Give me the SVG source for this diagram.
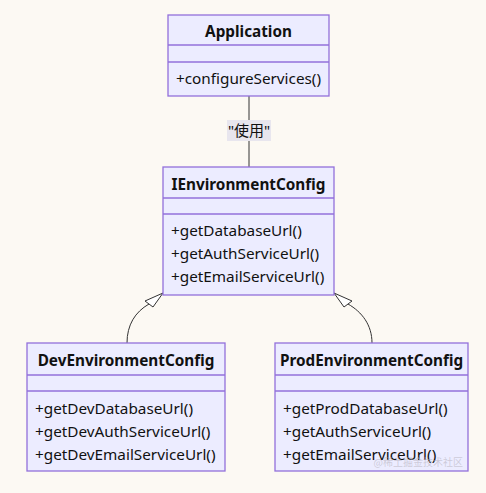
<svg xmlns="http://www.w3.org/2000/svg" width="486" height="493" viewBox="0 0 486 493">
<style>
.box{fill:#ECECFF;stroke:#9370DB;stroke-width:1.3}
.div{stroke:#9370DB;stroke-width:1.3}
.t{font-family:"Noto Sans","Open Sans",sans-serif;font-size:15.3px;fill:#111}
.h{font-weight:bold;text-anchor:middle}
.edge{fill:none;stroke:#333;stroke-width:1}
.arr{fill:#fff;stroke:#333;stroke-width:1}
.lbl{font-family:"Noto Sans","Noto Sans CJK SC",sans-serif;font-size:15px;fill:#111;text-anchor:middle}
</style>
<rect width="486" height="493" fill="#FCF9F3"/>
<g id="connectors">
<line class="edge" x1="249" y1="96" x2="249" y2="167"/>
<rect x="227" y="120" width="44" height="21" fill="#E8E6EE"/>
<text class="lbl" x="249" y="136">"使用"</text>
<path class="edge" d="M127,343 C127,325 135,312 149,304"/>
<polygon class="arr" points="163,293 145,301 153,307"/>
<path class="edge" d="M372,343 C372,325 362,312 348,304"/>
<polygon class="arr" points="334,293 352,301 344,307"/>
</g>
<g id="Application">
<rect class="box" x="168" y="15" width="161" height="81"/>
<line class="div" x1="168" y1="45" x2="329" y2="45"/>
<line class="div" x1="168" y1="62" x2="329" y2="62"/>
<text class="t h" x="248.5" y="37">Application</text>
<text class="t" x="176" y="84">+configureServices()</text>
</g>
<g id="IEnvironmentConfig">
<rect class="box" x="163" y="167" width="171" height="128"/>
<line class="div" x1="163" y1="198" x2="334" y2="198"/>
<line class="div" x1="163" y1="214" x2="334" y2="214"/>
<text class="t h" x="248.5" y="190">IEnvironmentConfig</text>
<text class="t" x="171" y="236">+getDatabaseUrl()</text>
<text class="t" x="171" y="259">+getAuthServiceUrl()</text>
<text class="t" x="171" y="282">+getEmailServiceUrl()</text>
</g>
<g id="DevEnvironmentConfig">
<rect class="box" x="27" y="343" width="198" height="128"/>
<line class="div" x1="27" y1="375" x2="225" y2="375"/>
<line class="div" x1="27" y1="391" x2="225" y2="391"/>
<text class="t h" x="126" y="366">DevEnvironmentConfig</text>
<text class="t" x="35" y="414">+getDevDatabaseUrl()</text>
<text class="t" x="35" y="437">+getDevAuthServiceUrl()</text>
<text class="t" x="35" y="460">+getDevEmailServiceUrl()</text>
</g>
<g id="ProdEnvironmentConfig">
<rect class="box" x="275" y="343" width="193" height="128"/>
<line class="div" x1="275" y1="375" x2="468" y2="375"/>
<line class="div" x1="275" y1="391" x2="468" y2="391"/>
<text class="t h" x="371.5" y="366">ProdEnvironmentConfig</text>
<text class="t" x="283" y="414">+getProdDatabaseUrl()</text>
<text class="t" x="283" y="437">+getAuthServiceUrl()</text>
<text class="t" x="283" y="460">+getEmailServiceUrl()</text>
</g>
<text x="463" y="466" font-family="Noto Sans CJK SC,sans-serif" font-size="10" fill="#B8B4C0" fill-opacity="0.6" text-anchor="end">@稀土掘金技术社区</text>
</svg>
